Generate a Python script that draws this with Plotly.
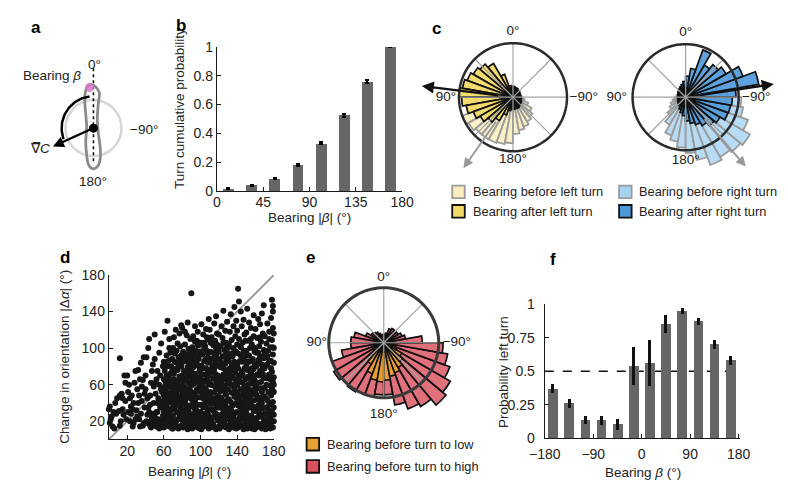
import numpy as np
import plotly.graph_objects as go

W, H = 788, 480

# ---------------- DATA ----------------
# panel b
b_bearing = [11.25, 33.75, 56.25, 78.75, 101.25, 123.75, 146.25, 168.75]
b_cumprob = [0.015, 0.04, 0.085, 0.18, 0.33, 0.525, 0.76, 1.0]
b_err = [0.003, 0.003, 0.004, 0.006, 0.007, 0.008, 0.007, 0.0]

# rose histograms (bin centres, deg, counter-clockwise from 0 at top)
rose_theta = [5, 15, 25, 35, 45, 55, 65, 75, 85, 95, 105, 115, 125, 135, 145, 155, 165, 175,
              185, 195, 205, 215, 225, 235, 245, 255, 265, 275, 285, 295, 305, 315, 325, 335, 345, 355]
c_before_left = [0.15, 0.15, 0.20, 0.25, 0.30, 0.35, 0.40, 0.50, 0.60, 0.70, 0.85, 1.00, 0.95, 0.90, 0.90, 0.90, 0.88, 0.85,
                 0.68, 0.62, 0.58, 0.52, 0.47, 0.40, 0.30, 0.22, 0.18, 0.15, 0.12, 0.12, 0.10, 0.10, 0.10, 0.12, 0.12, 0.12]
c_after_left = [0.20, 0.22, 0.45, 0.72, 0.80, 0.85, 0.90, 0.95, 1.00, 0.95, 0.88, 0.78, 0.70, 0.60, 0.50, 0.35, 0.25, 0.22,
                0.22, 0.20, 0.22, 0.20, 0.18, 0.18, 0.16, 0.16, 0.15, 0.15, 0.14, 0.14, 0.15, 0.16, 0.16, 0.18, 0.18, 0.20]
c_before_right = [0.18, 0.15, 0.15, 0.15, 0.12, 0.12, 0.15, 0.15, 0.18, 0.20, 0.25, 0.30, 0.35, 0.45, 0.60, 0.77, 0.85, 0.95,
                  1.05, 1.20, 1.36, 1.30, 1.35, 1.40, 1.25, 1.10, 1.05, 0.80, 0.60, 0.50, 0.40, 0.35, 0.30, 0.25, 0.20, 0.20]
c_after_right = [0.30, 0.25, 0.22, 0.20, 0.18, 0.17, 0.16, 0.15, 0.15, 0.15, 0.15, 0.16, 0.17, 0.18, 0.20, 0.25, 0.30, 0.35,
                 0.45, 0.50, 0.55, 0.62, 0.70, 0.75, 0.85, 0.86, 0.88, 0.95, 1.40, 1.15, 0.88, 0.80, 0.70, 0.95, 0.55, 0.40]
e_high = [0.15, 0.14, 0.18, 0.22, 0.24, 0.27, 0.35, 0.55, 0.60, 0.60, 0.78, 1.00, 1.05, 1.00, 1.03, 1.00, 1.00, 0.95,
          0.95, 1.15, 1.28, 1.34, 1.48, 1.40, 1.28, 1.18, 1.08, 0.70, 0.40, 0.35, 0.30, 0.26, 0.30, 0.27, 0.18, 0.15]
e_low = [0.10, 0.10, 0.10, 0.12, 0.12, 0.12, 0.14, 0.15, 0.16, 0.17, 0.18, 0.18, 0.22, 0.30, 0.45, 0.60, 0.69, 0.71,
         0.68, 0.62, 0.58, 0.52, 0.45, 0.38, 0.25, 0.20, 0.17, 0.15, 0.12, 0.12, 0.10, 0.10, 0.10, 0.10, 0.10, 0.10]

# panel f
f_bearing = [-165, -135, -105, -75, -45, -15, 15, 45, 75, 105, 135, 165]
f_prob = [0.37, 0.26, 0.135, 0.135, 0.105, 0.54, 0.56, 0.85, 0.945, 0.87, 0.70, 0.58]
f_err = [0.035, 0.03, 0.03, 0.035, 0.04, 0.14, 0.17, 0.065, 0.022, 0.028, 0.035, 0.035]

# panel d (|bearing|, |change in orientation|)
d_points = [
    (1,36),(1,18),(2,22),(4,14),(5,30),(6,12),(8,28),(9,45),(3,25),(7,40),(0,33),
    (12,89),(12,48),(13,20),(14,50),(15,33),(16,27),(17,70),(18,42),(19,22),(12,15),(18,62),(15,45),(11,31),
    (20,70),(21,30),(22,60),(23,20),(24,28),(25,48),(26,14),(27,40),(28,62),(29,22),(21,52),(24,36),(27,18),(29,75),(23,45),(26,33),
    (30,32),(31,55),(32,76),(33,22),(34,14),(35,84),(36,42),(37,65),(38,18),(39,35),(31,25),(33,48),(35,28),(36,58),(38,90),(39,50),(32,40),(37,15),(34,66),
    (40,70),(41,20),(42,45),(43,100),(44,30),(45,15),(46,62),(47,24),(48,82),(49,40),(40,55),(42,18),(43,35),(44,110),(45,48),(46,20),(47,75),(48,28),(49,58),(41,90),(45,38),(48,16),(42,27),(46,13),
    (50,115),(51,20),(52,66),(53,30),(54,45),(55,95),(56,18),(57,55),(58,38),(59,80),(50,25),(51,50),(52,14),(53,75),(54,22),(55,60),(56,35),(57,105),(58,20),(59,42),(50,88),(52,30),(54,16),(56,70),(58,52),(59,26),(53,40),(57,18),(55,12),(51,62),
    (61,118),(64,130),(66,100),(60,22),(62,15),(63,28),(65,18),(67,25),(69,12),(61,35),(64,40),(68,33),(60,48),(63,52),(66,45),(69,55),(62,62),(65,68),(68,60),(61,75),(64,80),(67,72),(69,88),(63,92),(66,110),(60,85),(68,20),(62,44),(65,30),(67,95),(64,16),(69,40),(61,58),
    (71,14),(73,19),(76,12),(79,22),(70,26),(74,30),(77,27),(72,36),(75,40),(78,34),(71,45),(74,50),(79,47),(76,55),(70,60),(73,64),(78,66),(71,72),(75,76),(79,80),(72,85),(76,90),(74,97),(78,102),(71,112),(77,116),(73,120),(79,125),(70,17),(75,22),(78,58),(72,52),(76,38),(74,84),(70,100),(79,92),
    (81,13),(83,18),(86,11),(89,16),(80,22),(84,25),(87,21),(82,30),(85,34),(88,28),(81,39),(84,44),(89,37),(86,48),(80,52),(83,57),(88,55),(81,63),(85,67),(89,70),(82,75),(86,79),(84,86),(88,90),(81,96),(87,99),(83,104),(89,110),(85,114),(80,122),(86,128),(82,18),(85,26),(87,62),(83,47),(89,82),(80,85),(84,93),
    (91,12),(94,15),(97,13),(99,18),(92,20),(96,22),(90,25),(93,28),(98,27),(95,33),(91,36),(99,38),(94,41),(97,46),(92,48),(90,52),(96,55),(99,58),(93,61),(91,66),(97,68),(94,72),(99,75),(92,79),(96,83),(90,86),(98,88),(93,92),(95,97),(91,101),(99,104),(96,108),(92,113),(97,118),(90,160),(94,124),(90,94),(98,63),(93,17),(96,38),
    (101,11),(104,14),(107,19),(109,12),(102,23),(106,26),(108,31),(100,30),(103,35),(105,40),(109,43),(101,46),(104,50),(107,53),(102,57),(109,60),(105,64),(100,67),(103,71),(108,74),(106,78),(101,81),(104,86),(109,89),(102,93),(107,97),(105,102),(100,106),(108,110),(103,115),(106,121),(101,126),(109,132),(104,99),(107,45),(102,16),(105,28),(108,84),(103,62),
    (111,13),(114,17),(117,11),(119,21),(112,24),(116,29),(110,33),(118,36),(113,39),(115,44),(119,48),(111,52),(117,55),(114,59),(110,63),(116,66),(119,70),(112,73),(115,77),(118,81),(110,85),(113,89),(117,92),(111,96),(119,99),(114,103),(116,108),(112,112),(118,116),(110,120),(115,127),(117,135),(113,45),(119,58),(111,18),(116,84),(114,31),
    (121,12),(124,16),(128,13),(126,20),(120,22),(123,27),(129,25),(125,31),(121,35),(127,38),(124,42),(120,46),(128,49),(122,53),(126,56),(129,61),(123,64),(120,68),(125,71),(128,75),(122,79),(127,83),(121,87),(124,91),(129,94),(126,98),(122,102),(128,106),(124,111),(120,115),(127,119),(123,124),(129,129),(125,141),(121,60),(126,33),(124,18),(128,88),
    (131,11),(134,14),(137,17),(139,12),(132,21),(136,24),(130,28),(138,29),(133,33),(135,37),(139,40),(131,44),(137,47),(134,51),(130,55),(136,58),(139,62),(132,65),(135,69),(138,73),(131,77),(134,81),(137,85),(130,89),(133,93),(139,96),(136,100),(131,104),(134,109),(138,113),(132,118),(136,124),(139,130),(133,137),(137,145),(135,22),(130,72),(138,52),
    (141,13),(144,16),(147,11),(149,19),(142,23),(146,26),(140,30),(148,33),(143,36),(145,41),(149,44),(141,48),(147,51),(144,55),(140,59),(146,62),(149,66),(142,70),(145,74),(148,78),(140,82),(143,86),(147,90),(141,94),(149,97),(144,101),(146,106),(142,110),(148,115),(140,119),(145,124),(141,165),(142,151),(147,131),(144,140),(149,108),(143,28),(146,49),
    (151,12),(154,15),(157,19),(159,11),(152,22),(156,25),(150,29),(158,31),(153,35),(155,39),(159,43),(151,47),(157,50),(154,54),(150,58),(156,61),(159,65),(152,69),(155,73),(158,77),(150,81),(153,85),(157,88),(151,92),(159,96),(154,100),(156,104),(152,108),(158,113),(150,117),(155,122),(153,128),(158,136),(151,143),(156,17),(152,40),(157,70),
    (161,13),(164,17),(167,12),(169,20),(162,24),(166,27),(160,31),(168,34),(163,37),(165,42),(169,45),(161,49),(167,52),(164,56),(160,60),(166,63),(169,67),(162,71),(165,75),(168,79),(160,83),(163,87),(167,91),(161,95),(169,98),(164,102),(166,107),(162,111),(168,116),(160,121),(165,126),(163,132),(167,138),(169,147),(161,22),(166,46),(164,85),
    (171,11),(174,15),(177,18),(179,13),(172,21),(176,24),(170,28),(178,30),(173,34),(175,38),(179,41),(171,45),(177,48),(174,52),(170,56),(176,59),(179,63),(172,67),(175,71),(178,74),(170,78),(173,82),(177,86),(171,90),(179,93),(174,97),(176,101),(172,105),(178,109),(170,113),(175,118),(179,122),(173,127),(177,133),(179,140),(178,153),(179,146),
    (180,20),(180,35),(180,52),(180,68),(180,84),(180,100),(180,116),(180,27),(180,60),
    (60,13),(62,19),(64,24),(66,14),(68,27),(60,31),(63,36),(66,31),(69,22),(61,42),(64,47),(67,50),(69,34),(62,55),(65,58),(68,45),(60,66),(63,70),(66,63),(69,75),(62,83),(65,86),(68,80),
    (70,12),(72,16),(74,21),(77,14),(79,30),(71,33),(73,41),(76,45),(78,40),(70,49),(72,57),(75,61),(77,69),(79,55),(71,66),(73,77),(76,82),(78,88),(72,94),(75,105),
    (80,16),(82,24),(85,14),(87,31),(89,24),(81,33),(83,40),(86,37),(88,46),(80,44),(82,50),(85,54),(87,52),(89,60),(81,58),(84,65),(86,72),(88,77),(80,70),(82,88),(85,93),(87,84),(89,98),(83,118),
    (90,15),(92,26),(94,33),(97,30),(99,24),(91,43),(93,50),(95,47),(98,53),(90,59),(92,71),(95,66),(98,80),(90,76),(93,85),(96,91),(99,96),(91,90),(94,107),(97,103),(99,12),(95,20),
    (100,14),(102,20),(104,24),(106,17),(108,22),(101,38),(103,45),(106,35),(109,50),(100,52),(102,64),(105,56),(107,67),(109,70),(101,71),(103,78),(106,88),(108,94),(100,93),(104,106),(107,112),(109,26),
    (110,15),(112,20),(114,24),(116,13),(118,27),(111,39),(113,33),(115,51),(117,41),(119,35),(110,47),(112,60),(114,67),(116,72),(118,62),(110,76),(113,80),(115,94),(117,99),(119,88),(111,106),(118,104),
    (120,14),(122,18),(124,25),(126,14),(128,30),(121,40),(123,46),(125,37),(127,51),(129,43),(120,56),(122,66),(124,59),(126,70),(128,66),(121,80),(123,84),(125,78),(127,92),(129,101),(120,96),(125,106),
    (130,15),(132,16),(134,26),(136,13),(138,19),(131,34),(133,41),(135,30),(137,55),(139,46),(130,63),(132,70),(134,60),(136,79),(138,66),(131,86),(133,75),(135,91),(137,95),(139,83),(130,100),(134,94),
    (140,14),(142,18),(144,22),(146,14),(148,24),(141,37),(143,44),(145,32),(147,38),(149,54),(140,52),(142,63),(144,48),(146,71),(148,58),(141,78),(143,68),(145,85),(147,96),(149,86),(140,104),(144,92),
    (150,15),(152,18),(154,26),(156,12),(158,22),(151,34),(153,44),(155,48),(157,36),(159,55),(150,50),(152,60),(154,66),(156,78),(158,68),(151,76),(153,92),(155,86),(157,101),(159,83),(150,96),(155,110),
    (160,14),(162,17),(164,27),(166,15),(168,24),(161,35),(163,45),(165,33),(167,40),(169,56),(160,52),(162,62),(164,70),(166,56),(168,72),(161,80),(163,95),(165,90),(167,82),(169,89),(160,100),(165,112),
    (170,14),(172,17),(174,26),(176,12),(178,20),(171,35),(173,43),(175,31),(177,40),(179,53),(170,47),(172,60),(174,70),(176,66),(178,56),(171,81),(173,91),(175,86),(177,78),(179,101),(170,96),(175,110),
]
d_bearing = [p[0] for p in d_points]
d_dorient = [p[1] for p in d_points]

# panel a schematic outline (worm body, relative to the gradient circle centre)
a_worm_x = [-4, 2, 6, 5, 4, 5, 7, 7, 4, -1, -5, -7, -8, -7, -8, -9, -8, -4]
a_worm_y = [45, 43, 37, 25, 10, -5, -20, -32, -40, -42, -38, -28, -14, 0, 15, 28, 39, 45]

# ---------------- STYLE / LAYOUT HELPERS ----------------
FONT = "Liberation Sans, Arial, sans-serif"
TXT = "#222222"
BARGRAY = "#666666"
TICKF = 14
TITLEF = 13.5


def fx(px):
    return px / W


def fy(py):
    return 1 - py / H


fig = go.Figure()

# ---- panel b ----
fig.add_trace(go.Bar(x=b_bearing, y=b_cumprob, width=10.5, xaxis="x", yaxis="y",
                     marker=dict(color=BARGRAY, line=dict(width=0)),
                     error_y=dict(type="data", array=b_err, color="black", thickness=2, width=2),
                     showlegend=False))

# ---- panel d ----
fig.add_trace(go.Scatter(x=d_bearing, y=d_dorient, mode="markers", xaxis="x2", yaxis="y2",
                         marker=dict(size=6, color="#161616"), cliponaxis=False, showlegend=False))

# ---- panel f ----
fig.add_trace(go.Bar(x=f_bearing, y=f_prob, width=18, xaxis="x3", yaxis="y3",
                     marker=dict(color=BARGRAY, line=dict(width=0)),
                     error_y=dict(type="data", array=f_err, color="#111111", thickness=3, width=0),
                     showlegend=False))

# ---- panel a (schematic) ----
arc_t = np.radians(np.linspace(97, 200, 50))
fig.add_trace(go.Scatter(x=[0, 0], y=[62, -37], mode="lines", xaxis="x4", yaxis="y4",
                         line=dict(color="black", width=1.5, dash="dot"), showlegend=False))
fig.add_trace(go.Scatter(x=a_worm_x, y=a_worm_y, mode="lines", xaxis="x4", yaxis="y4",
                         line=dict(color="#8a8a8a", width=2.8, shape="spline"), showlegend=False))
fig.add_trace(go.Scatter(x=33 * np.cos(arc_t), y=33 * np.sin(arc_t), mode="lines", xaxis="x4", yaxis="y4",
                         line=dict(color="black", width=2.5), showlegend=False))
fig.add_trace(go.Scatter(x=[-4], y=[42], mode="markers", xaxis="x4", yaxis="y4",
                         marker=dict(size=9, color="rgba(214,120,200,0.85)"), showlegend=False))
fig.add_trace(go.Scatter(x=[0], y=[0], mode="markers", xaxis="x4", yaxis="y4",
                         marker=dict(size=9, color="black"), showlegend=False))

# ---- polar panels ----
POL = {
    "polar": dict(cx=507, cy=84, R=56, rmax=1.45),
    "polar2": dict(cx=686, cy=84, R=55, rmax=1.45),
    "polar3": dict(cx=373, cy=338, R=57, rmax=1.52),
}
circ_theta = list(range(0, 361, 3))
spoke_r, spoke_t = [], []
for a in range(0, 360, 45):
    spoke_r += [0, 1, None]
    spoke_t += [a, a, None]


def add_rose_frame(sub, ccol, cw):
    fig.add_trace(go.Scatterpolar(r=spoke_r, theta=spoke_t, mode="lines", subplot=sub,
                                  line=dict(color="#a3a3a3", width=1.2), showlegend=False))
    fig.add_trace(go.Scatterpolar(r=[1] * len(circ_theta), theta=circ_theta, mode="lines", subplot=sub,
                                  line=dict(color=ccol, width=cw), showlegend=False))


def add_rose(sub, vals, fill, edge, ew):
    fig.add_trace(go.Barpolar(r=vals, theta=rose_theta, width=10, subplot=sub,
                              marker=dict(color=fill, line=dict(color=edge, width=ew)), showlegend=False))


def add_labels(sub, rs):
    fig.add_trace(go.Scatterpolar(r=rs, theta=[0, 90, 180, 270], mode="text", subplot=sub,
                                  text=["0°", "90°", "180°", "−90°"], cliponaxis=False,
                                  textfont=dict(size=TITLEF, color=TXT, family=FONT), showlegend=False))


add_rose_frame("polar", "#2b2b2b", 2.5)
add_rose("polar", c_before_left, "rgba(248,237,187,0.85)", "#9b9b9b", 1.8)
add_rose("polar", c_after_left, "rgba(242,216,100,0.92)", "#111111", 1.7)
add_labels("polar", [1.22, 1.24, 1.16, 1.31])

add_rose_frame("polar2", "#2b2b2b", 2.5)
add_rose("polar2", c_before_right, "rgba(166,211,242,0.8)", "#9b9b9b", 1.8)
add_rose("polar2", c_after_right, "rgba(76,151,216,0.9)", "#111111", 1.7)
add_labels("polar2", [1.22, 1.3, 1.2, 1.33])

add_rose_frame("polar3", "#3a3a3a", 3)
add_rose("polar3", e_high, "rgba(217,80,94,0.82)", "#111111", 1.7)
add_rose("polar3", e_low, "rgba(233,160,50,0.95)", "#111111", 1.6)
add_labels("polar3", [1.18, 1.22, 1.3, 1.33])

polars = {}
for k, p in POL.items():
    h = p["R"] * p["rmax"]
    polars[k] = dict(
        domain=dict(x=[fx(p["cx"] - h), fx(p["cx"] + h)], y=[fy(p["cy"] + h), fy(p["cy"] - h)]),
        bgcolor="rgba(0,0,0,0)", barmode="overlay",
        radialaxis=dict(range=[0, p["rmax"]], visible=False),
        angularaxis=dict(rotation=90, direction="counterclockwise", showline=False, showgrid=False,
                         showticklabels=False, ticks=""),
    )

# ---------------- AXES ----------------
ax_common = dict(showline=True, linecolor="#1a1a1a", linewidth=1.3, ticks="inside", ticklen=4,
                 tickcolor="#1a1a1a", showgrid=False, zeroline=False,
                 tickfont=dict(size=TICKF, color=TXT, family=FONT))

layout = dict(
    width=W, height=H, autosize=False, margin=dict(l=0, r=0, t=0, b=0),
    paper_bgcolor="white", plot_bgcolor="rgba(0,0,0,0)",
    font=dict(family=FONT, size=13, color=TXT),
    showlegend=False, bargap=0,
    xaxis=dict(domain=[fx(200), fx(392)], anchor="y", range=[0, 180], tickvals=[0, 45, 90, 135, 180],
               ticklabelstandoff=-2, **ax_common),
    yaxis=dict(domain=[fy(181), fy(32)], anchor="x", range=[0, 1], tickvals=[0, 0.2, 0.4, 0.6, 0.8, 1], **ax_common),
    xaxis2=dict(domain=[fx(88), fx(259)], anchor="y2", range=[0, 180], tickvals=[20, 60, 100, 140, 180],
                ticklabelstandoff=-1, **ax_common),
    yaxis2=dict(domain=[fy(438), fy(268)], anchor="x2", range=[0, 180], tickvals=[20, 60, 100, 140, 180], **ax_common),
    xaxis3=dict(domain=[fx(540), fx(742)], anchor="y3", range=[-180, 182], tickvals=[-180, -90, 0, 90, 180],
                ticktext=["−180", "−90", "0", "90", "180"], ticklabelstandoff=3, **ax_common),
    yaxis3=dict(domain=[fy(437), fy(298)], anchor="x3", range=[0, 1], tickvals=[0, 0.25, 0.5, 0.75, 1],
                ticktext=["0", "0.25", "0.5", "0.75", "1"], ticklabelstandoff=6, **ax_common),
    xaxis4=dict(domain=[fx(0), fx(140)], anchor="y4", range=[-72, 68], visible=False),
    yaxis4=dict(domain=[fy(190), fy(20)], anchor="x4", range=[-74, 96], visible=False),
    **polars,
)
fig.update_layout(**layout)

shapes = []
# panel a gradient circle
shapes.append(dict(type="circle", xref="x4", yref="y4", x0=-29, x1=29, y0=-29, y1=29,
                   line=dict(color="#d6d6d6", width=2.5), layer="below"))
# panel d diagonal
shapes.append(dict(type="line", xref="x2", yref="y2", x0=0, y0=0, x1=180, y1=180,
                   line=dict(color="#9a9a9a", width=2), layer="below"))
# panel f chance level
shapes.append(dict(type="line", xref="x3", yref="y3", x0=-180, y0=0.5, x1=180, y1=0.5,
                   line=dict(color="#111111", width=1.4, dash="dash"), layer="below"))

annotations = []


def txt(px, py, s, size=TITLEF, anchor="center", angle=0, bold=False):
    annotations.append(dict(x=fx(px), y=fy(py), xref="paper", yref="paper", text=("<b>%s</b>" % s) if bold else s,
                            showarrow=False, xanchor=anchor, yanchor="middle", textangle=angle, borderpad=0,
                            font=dict(size=size, color=TXT if not bold else "black", family=FONT)))


# legend swatches + texts
def swatch(px, py, fill, edge, ew):
    shapes.append(dict(type="rect", xref="paper", yref="paper", x0=fx(px), x1=fx(px + 13),
                       y0=fy(py + 6.5), y1=fy(py - 6.5), fillcolor=fill, line=dict(color=edge, width=ew)))


LEGF = 12.8
swatch(444, 182, "#F8EDBB", "#9b9b9b", 1.8)
swatch(444, 202, "#F2D864", "#111111", 1.8)
txt(464, 182, "Bearing before left turn", size=LEGF, anchor="left")
txt(464, 202, "Bearing after left turn", size=LEGF, anchor="left")
swatch(617, 182, "#A6D3F2", "#9b9b9b", 1.8)
swatch(617, 202, "#4C97D8", "#111111", 1.8)
txt(637, 182, "Bearing before right turn", size=LEGF, anchor="left")
txt(637, 202, "Bearing after right turn", size=LEGF, anchor="left")
swatch(293, 443, "#E9A032", "#111111", 1.8)
swatch(293, 466, "#D9505E", "#111111", 1.8)
txt(313, 443, "Bearing before turn to low", size=LEGF, anchor="left")
txt(313, 466, "Bearing before turn to high", size=LEGF, anchor="left")

# axis titles
txt(162, 96, "Turn cumulative probability", angle=-90)
txt(296, 208, "Bearing |<i>β</i>| (°)")
txt(42, 353, "Change in orientation |Δ<i>α</i>| (°)", angle=-90)
txt(172, 471, "Bearing |<i>β</i>| (°)")
txt(497, 368, "Probability left turn", angle=-90)
txt(642, 472, "Bearing <i>β</i> (°)")

# panel letters
for (px, py, s) in [(12, 12, "a"), (163, 10, "b"), (428, 13, "c"), (42, 250, "d"), (297, 250, "e"), (548, 252, "f")]:
    txt(px, py, s, size=17, bold=True)

# panel a texts (in schematic axis units)
for (x, y, s, anc) in [(1, 66, "0°", "center"), (-43, 54, "Bearing <i>β</i>", "center"),
                       (36, -1, "−90°", "left"), (0, -55, "180°", "center"),
                       (-55, -21, "∇\u0305<i>C</i>", "center")]:
    annotations.append(dict(x=x, y=y, xref="x4", yref="y4", text=s, showarrow=False, xanchor=anc,
                            yanchor="middle", font=dict(size=TITLEF, color=TXT, family=FONT)))
# gradient arrow in panel a
annotations.append(dict(x=-42, y=-19, ax=0, ay=0, xref="x4", yref="y4", axref="x4", ayref="y4", text="",
                        showarrow=True, arrowhead=2, arrowsize=1, arrowwidth=2.2, arrowcolor="black"))


# mean-direction arrows in panel c
def polar_arrow(key, theta, r0, r1, color, width):
    p = POL[key]
    t = np.radians(theta)
    tipx = p["cx"] - p["R"] * r1 * np.sin(t)
    tipy = p["cy"] - p["R"] * r1 * np.cos(t)
    tlx = p["cx"] - p["R"] * r0 * np.sin(t)
    tly = p["cy"] - p["R"] * r0 * np.cos(t)
    annotations.append(dict(x=fx(tipx), y=fy(tipy), xref="paper", yref="paper", ax=tlx - tipx, ay=tly - tipy,
                            axref="pixel", ayref="pixel", text="", showarrow=True, arrowhead=2,
                            arrowsize=1, arrowwidth=width, arrowcolor=color))


polar_arrow("polar", 83, 0.3, 1.7, "#111111", 2.4)
polar_arrow("polar", 145, 0.55, 1.6, "#9a9a9a", 2.0)
polar_arrow("polar2", 278.5, 0.3, 1.68, "#111111", 2.4)
polar_arrow("polar2", 221, 0.55, 1.73, "#9a9a9a", 2.0)

fig.update_layout(shapes=shapes, annotations=annotations)
fig.write_html("out.html")
